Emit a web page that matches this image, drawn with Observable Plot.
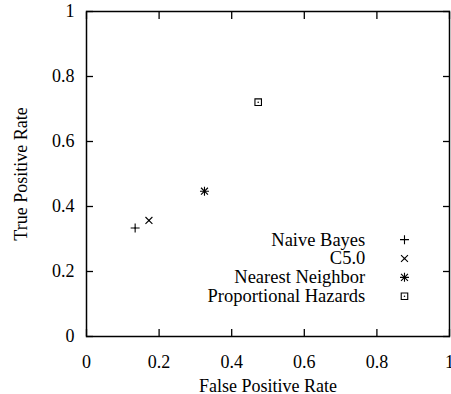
<!DOCTYPE html>
<html>
<head>
<meta charset="utf-8">
<script src="https://cdn.jsdelivr.net/npm/d3@7"></script>
<script src="https://cdn.jsdelivr.net/npm/@observablehq/plot@0.6"></script>
<style>
  html, body { margin: 0; padding: 0; background: #fff; }
  svg, svg text { font-family: "Liberation Serif", "Times New Roman", serif !important; }
</style>
</head>
<body>
<div id="chart"></div>
<script>
const methods = ["Naive Bayes", "C5.0", "Nearest Neighbor", "Proportional Hazards"];
const symbols = ["plus", "times", "asterisk", "square"];
const fpr = [0.134, 0.172, 0.325, 0.473];
const tpr = [0.334, 0.357, 0.447, 0.721];
const xTicks = [0, 0.2, 0.4, 0.6, 0.8, 1];
const yTicks = [0, 0.2, 0.4, 0.6, 0.8, 1];
const xTitle = "False Positive Rate";
const yTitle = "True Positive Rate";

// gnuplot-style glyphs: the asterisk is a plus laid over a times
const glyphParts = {plus: ["plus"], times: ["times"], asterisk: ["plus", "times"], square: ["square"]};
const symR = {plus: 3.0, times: 3.5, square: 4.5};

const points = methods.flatMap((m, i) =>
  glyphParts[symbols[i]].map(s => ({method: m, symbol: s, x: fpr[i], y: tpr[i]})));
const legTextX = 0.768, legSymX = 0.876, legTop = 0.298, legStep = 0.058;
const legendText = methods.map((m, i) => ({method: m, row: i}));
const legendSym = methods.flatMap((m, i) =>
  glyphParts[symbols[i]].map(s => ({method: m, symbol: s, row: i})));

const fmt = d => String(d);

const chart = Plot.plot({
  width: 451,
  height: 394,
  marginLeft: 86,
  marginRight: 2,
  marginTop: 11,
  marginBottom: 58,
  style: {fontFamily: "Liberation Serif", fontSize: "18px", color: "black", background: "white"},
  x: {domain: [0, 1]},
  y: {domain: [0, 1]},
  symbol: {domain: ["plus", "times", "square"], range: ["plus", "times", "square"]},
  marks: [
    Plot.frame({stroke: "black", strokeWidth: 1.5}),
    Plot.axisX(xTicks, {anchor: "bottom", tickSize: -7, fill: "none", label: null, strokeWidth: 1.3}),
    Plot.axisX(xTicks, {anchor: "top", tickSize: -7, fill: "none", label: null, strokeWidth: 1.3}),
    Plot.axisY(yTicks, {anchor: "left", tickSize: -7, fill: "none", label: null, strokeWidth: 1.3}),
    Plot.axisY(yTicks, {anchor: "right", tickSize: -7, fill: "none", label: null, strokeWidth: 1.3}),
    Plot.axisX(xTicks, {anchor: "bottom", tickSize: 0, tickPadding: 19, tickFormat: fmt,
      label: xTitle, labelAnchor: "center", labelArrow: "none", labelOffset: 55}),
    Plot.axisY(yTicks, {anchor: "left", tickSize: 0, tickPadding: 12, tickFormat: fmt,
      label: yTitle, labelAnchor: "center", labelArrow: "none", labelOffset: 72}),
    Plot.dot(points, {x: "x", y: "y", symbol: "symbol", r: d => symR[d.symbol], stroke: "black", fill: "none", strokeWidth: 1.1}),
    Plot.dot(points, {x: "x", y: "y", r: 0.8, fill: "black", stroke: "none"}),
    Plot.text(legendText, {x: () => legTextX, y: d => legTop - d.row * legStep, text: "method",
      textAnchor: "end", lineAnchor: "middle", fontSize: 18.5, fill: "black"}),
    Plot.dot(legendSym, {x: () => legSymX, y: d => legTop - d.row * legStep, symbol: "symbol",
      r: d => symR[d.symbol], stroke: "black", fill: "none", strokeWidth: 1.1}),
    Plot.dot(legendText, {x: () => legSymX, y: d => legTop - d.row * legStep, r: 0.8, fill: "black", stroke: "none"})
  ]
});
document.getElementById("chart").appendChild(chart);
</script>
</body>
</html>
